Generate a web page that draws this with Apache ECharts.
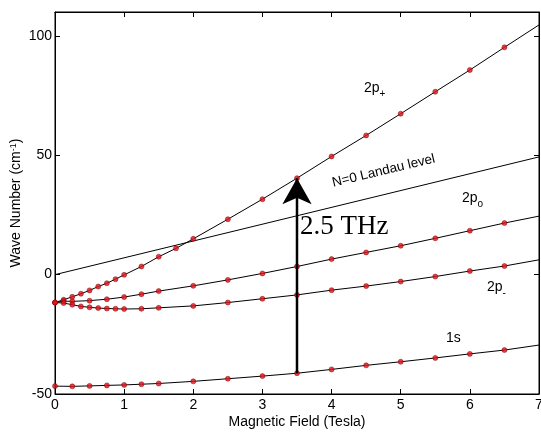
<!DOCTYPE html>
<html>
<head>
<meta charset="utf-8">
<script src="https://cdn.jsdelivr.net/npm/echarts@6/dist/echarts.min.js"></script>
<style>
html,body{margin:0;padding:0;background:#fff;}
#c{width:541px;height:432px;}
</style>
</head>
<body>
<div id="c"></div>
<script>
// ---- data (Magnetic field in Tesla, wave number in cm^-1) ----
const xTicks = [0, 1, 2, 3, 4, 5, 6, 7];
const yTicks = [-50, 0, 50, 100];

const fieldPlus = [0, 0.125, 0.25, 0.375, 0.5, 0.625, 0.75, 0.875, 1, 1.25, 1.5, 1.75, 2, 2.5, 3, 3.5, 4, 4.5, 5, 5.5, 6, 6.5];
const wavePlus  = [-11.7, -10.5, -9.3, -8.0, -6.6, -5.0, -3.6, -1.9, -0.1, 3.4, 7.5, 11.0, 15.0, 23.2, 31.6, 40.4, 49.5, 58.3, 67.4, 76.6, 85.7, 95.2];
const plusEnd   = [7, 104.6];

const fieldZero = [0, 0.125, 0.25, 0.5, 0.75, 1, 1.25, 1.5, 2, 2.5, 3, 3.5, 4, 4.5, 5, 5.5, 6, 6.5];
const waveZero  = [-11.7, -11.1, -11.2, -10.9, -10.3, -9.4, -8.2, -6.9, -4.7, -2.2, 0.5, 3.4, 6.5, 9.3, 12.1, 15.2, 18.4, 21.6];
const zeroEnd   = [7, 24.5];

const fieldMinus = [0, 0.125, 0.25, 0.375, 0.5, 0.625, 0.75, 0.875, 1, 1.25, 1.5, 2, 2.5, 3, 3.5, 4, 4.5, 5, 5.5, 6, 6.5];
const waveMinus  = [-11.7, -11.9, -12.6, -13.3, -13.7, -14.0, -14.2, -14.3, -14.4, -14.3, -13.9, -13.1, -11.7, -10.1, -8.5, -6.5, -4.8, -2.9, -0.8, 1.5, 3.6];
const minusEnd   = [7, 6.2];

const field1s = [0, 0.25, 0.5, 0.75, 1, 1.25, 1.5, 2, 2.5, 3, 3.5, 4, 4.5, 5, 5.5, 6, 6.5];
const wave1s  = [-46.7, -46.8, -46.6, -46.4, -46.2, -45.9, -45.6, -44.7, -43.6, -42.5, -41.3, -39.7, -38.0, -36.5, -34.9, -33.2, -31.6];
const sEnd    = [7, -29.5];

const landauField = [0, 7];
const landauWave  = [0, 49.3];

const arrowField = [3.5, 3.5];
const arrowWave  = [-41.3, 40.4];

// ---- build ----
function pairs(xs, ys) { return xs.map((x, i) => [x, ys[i]]); }

const FONT = 'Liberation Sans, Arial, sans-serif';
const dotStyle = { color: '#e3101a', borderColor: '#7a0000', borderWidth: 0.6 };

function curve(xs, ys, end) {
  const pts = pairs(xs, ys);
  return [
    { type: 'line', data: pts.concat([end]), showSymbol: false, symbol: 'none',
      lineStyle: { color: '#000', width: 1 }, z: 2, silent: true, animation: false },
    { type: 'scatter', data: pts, symbol: 'circle', symbolSize: 5, itemStyle: dotStyle, z: 3, animation: false }
  ];
}

const series = [].concat(
  curve(fieldPlus, wavePlus, plusEnd),
  curve(fieldZero, waveZero, zeroEnd),
  curve(fieldMinus, waveMinus, minusEnd),
  curve(field1s, wave1s, sEnd),
  [{ type: 'line', data: pairs(landauField, landauWave), symbol: 'none',
     lineStyle: { color: '#000', width: 1 }, z: 2, animation: false },
   { type: 'line', data: [
       { value: [arrowField[0], arrowWave[0]], symbol: 'none' },
       { value: [arrowField[1], arrowWave[1]], symbol: 'arrow', symbolSize: [22, 26], symbolOffset: [0, 0] }
     ],
     showSymbol: true, showAllSymbol: true,
     lineStyle: { color: '#000', width: 2.5 }, itemStyle: { color: '#000' }, z: 4, animation: false },
   { type: 'scatter', xAxisIndex: 1, yAxisIndex: 1, data: [], silent: true }]
);

const axisCommon = {
  type: 'value',
  axisLine: { show: true, onZero: false, lineStyle: { color: '#000', width: 1 } },
  axisTick: { show: true, inside: true, length: 5, lineStyle: { color: '#000' } },
  splitLine: { show: false }
};

const chart = echarts.init(document.getElementById('c'), null, { renderer: 'canvas' });
chart.setOption({
  backgroundColor: '#fff',
  animation: false,
  grid: { left: 55, right: 2, top: 12, bottom: 38, containLabel: false, outerBoundsMode: 'none',
          show: true, borderColor: '#000', borderWidth: 1, backgroundColor: 'transparent' },
  xAxis: [
    Object.assign({}, axisCommon, {
      min: xTicks[0], max: xTicks[xTicks.length - 1], interval: 1, position: 'bottom',
      axisLabel: { color: '#000', fontFamily: FONT, fontSize: 14, margin: 4 },
      name: 'Magnetic Field (Tesla)', nameLocation: 'middle', nameGap: 21, nameMoveOverlap: false,
      nameTextStyle: { color: '#000', fontFamily: FONT, fontSize: 14 }
    }),
    Object.assign({}, axisCommon, {
      show: true, min: xTicks[0], max: xTicks[xTicks.length - 1], interval: 1, position: 'top',
      axisLabel: { show: false }
    })
  ],
  yAxis: [
    Object.assign({}, axisCommon, {
      min: yTicks[0], max: 110, interval: 50, position: 'left',
      axisLabel: { color: '#000', fontFamily: FONT, fontSize: 14, margin: 3, showMaxLabel: false,
        formatter: v => (yTicks.indexOf(v) >= 0 ? String(v) : '') },
      name: 'Wave Number (cm{sup|-1})', nameLocation: 'middle', nameGap: 31, nameRotate: 90, nameMoveOverlap: false,
      nameTextStyle: { color: '#000', fontFamily: FONT, fontSize: 14,
        rich: { sup: { fontFamily: FONT, fontSize: 9, color: '#000', verticalAlign: 'top', padding: [0, 0, 6, 0] } } }
    }),
    Object.assign({}, axisCommon, {
      show: true, min: yTicks[0], max: 110, interval: 50, position: 'right',
      axisLabel: { show: false }
    })
  ],
  series: series,
  graphic: [
    { type: 'text', left: 364, top: 81, style: { text: '{a|2p}{b|+}',
      rich: { a: { fontFamily: FONT, fontSize: 14, fill: '#000', verticalAlign: 'bottom' },
              b: { fontFamily: FONT, fontSize: 10, fill: '#000', verticalAlign: 'bottom', padding: [0, 0, -4, 0] } } } },
    { type: 'text', left: 462, top: 191, style: { text: '{a|2p}{b|o}',
      rich: { a: { fontFamily: FONT, fontSize: 14, fill: '#000', verticalAlign: 'bottom' },
              b: { fontFamily: FONT, fontSize: 10, fill: '#000', verticalAlign: 'bottom', padding: [0, 0, -4, 0] } } } },
    { type: 'text', left: 487, top: 280, style: { text: '{a|2p}{b|-}',
      rich: { a: { fontFamily: FONT, fontSize: 14, fill: '#000', verticalAlign: 'bottom' },
              b: { fontFamily: FONT, fontSize: 10, fill: '#000', verticalAlign: 'bottom', padding: [0, 0, -4, 0] } } } },
    { type: 'text', left: 446, top: 331, style: { text: '1s', fontFamily: FONT, fontSize: 14, fill: '#000' } },
    { type: 'text', x: 334, y: 190, rotation: 13.5 * Math.PI / 180,
      style: { text: 'N=0 Landau level', fontFamily: FONT, fontSize: 13.5, fill: '#000', textVerticalAlign: 'bottom' } },
    { type: 'text', left: 300, top: 213, style: { text: '2.5 THz', fontFamily: 'Liberation Serif, Times New Roman, serif', fontSize: 27, fill: '#000' } }
  ]
});
</script>
</body>
</html>
